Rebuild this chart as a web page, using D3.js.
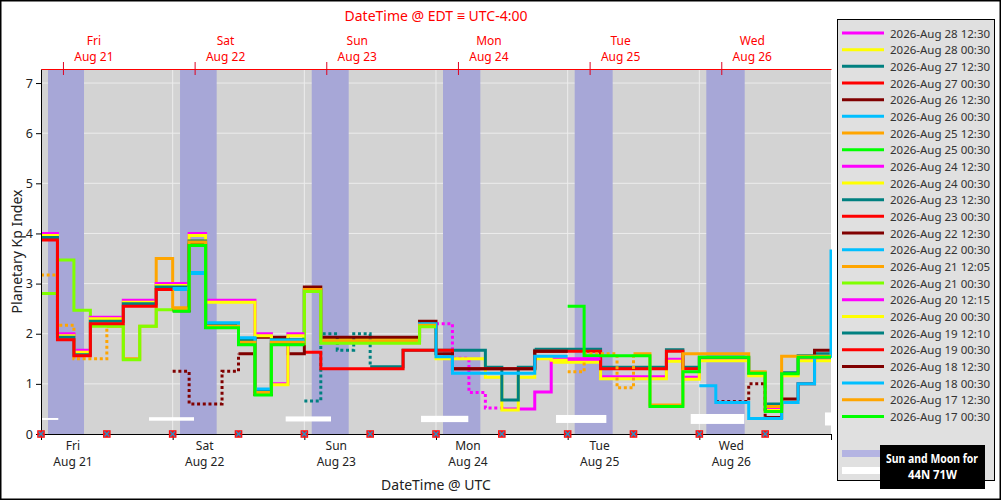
<!DOCTYPE html>
<html>
<head>
<meta charset="utf-8">
<script src="https://cdnjs.cloudflare.com/ajax/libs/d3/7.8.5/d3.min.js"></script>
<style>
  body { margin: 0; background: #fff; }
  svg { display: block; font-family: "Noto Sans", sans-serif; }
</style>
</head>
<body>
<div class="container"></div>
<script>
const WIDTH = 1001;
const HEIGHT = 500;
const LEFT = 41, RIGHT = 831, TOP = 69, BOTTOM = 434;

// forecast issue times, newest first (legend order)
const issued = [
    "2026-Aug 28 12:30", "2026-Aug 28 00:30", "2026-Aug 27 12:30", "2026-Aug 27 00:30",
    "2026-Aug 26 12:30", "2026-Aug 26 00:30", "2026-Aug 25 12:30", "2026-Aug 25 00:30",
    "2026-Aug 24 12:30", "2026-Aug 24 00:30", "2026-Aug 23 12:30", "2026-Aug 23 00:30",
    "2026-Aug 22 12:30", "2026-Aug 22 00:30", "2026-Aug 21 12:05", "2026-Aug 21 00:30",
    "2026-Aug 20 12:15", "2026-Aug 20 00:30", "2026-Aug 19 12:10", "2026-Aug 19 00:30",
    "2026-Aug 18 12:30", "2026-Aug 18 00:30", "2026-Aug 17 12:30", "2026-Aug 17 00:30"
];

// first 3-hour bin of each series (bin 0 = Aug 21 00:00 UTC)
const kpStart = [31, 31, 30, 30, 41, 40, 32, 32, 24, 16, 16, 16, 8, 8, 0, 0, 0, 0, 0, 0, 8, 8, 8, 8];

// dotted part (comes first), then solid part
const kpDotted = [
    [], [], [], [], [0.65, 0.65, 1.0], [], [1.24, 1.6, 1.6, 0.92], [],
    [2.2, 1.51, 0.83, 0.52], [], [0.66, 2.0, 1.67, 2.0], [],
    [1.25, 0.6, 0.6, 1.25], [], [3.17, 2.17, 1.5, 1.5], [],
    [], [], [], [], [], [], [], []
];

const kpSolid = [
    [1.47, 1.47, 1.47, 1.14, 1.14, 1.14, 1.14, 1.49, 1.13, 1.5, 1.5, 1.5, 1.2, 0.52, 1.2, 1.5, 1.5],
    [1.43, 1.43, 1.43, 1.1, 1.1, 1.1, 1.1, 1.45, 1.09, 1.46, 1.46, 1.46, 1.16, 0.47, 1.16, 1.46, 1.46],
    [1.69, 1.69, 1.69, 1.69, 1.33, 1.33, 1.33, 1.33, 1.68, 1.33, 1.53, 1.53, 1.53, 1.22, 0.6, 1.22, 1.56, 1.6],
    [1.65, 1.65, 1.65, 1.65, 1.3, 1.3, 1.3, 1.3, 1.65, 1.3],
    [0.33, 0.7, 1.0, 1.67],
    [0.96, 0.63, 0.63, 0.31, 0.31, 0.63, 1.0, 1.55, 3.65],
    [1.6, 0.58, 0.58, 1.6, 1.6, 1.6, 1.6, 1.24, 0.55, 1.55, 1.55, 1.55],
    [2.55, 1.56, 1.56, 1.56, 1.56, 0.55, 0.55, 1.24, 1.53, 1.53, 1.53, 1.21, 0.45, 1.2, 1.53, 1.53],
    [0.5, 0.5, 0.84, 1.5, 1.5, 1.5],
    [2.9, 1.9, 1.9, 1.9, 1.9, 1.9, 1.9, 2.15, 1.5, 1.5, 1.5, 1.13, 0.48, 1.13, 1.5, 1.47],
    [1.34, 1.34, 1.67, 1.67, 1.67, 1.67, 1.67, 1.33, 0.68, 1.33, 1.67, 1.67],
    [1.63, 1.3, 1.3, 1.3, 1.3, 1.3, 1.67, 1.67, 1.67, 1.3, 1.3, 1.3, 1.3, 1.3, 1.65, 1.65],
    [1.6, 1.93, 1.93, 1.6, 2.93, 1.93, 1.93, 1.93, 1.93, 1.93, 1.93, 2.25, 1.6, 1.3, 1.3, 1.3, 1.3, 1.3, 1.65, 1.65],
    [2.88, 3.22, 2.2, 2.2, 1.9, 0.88, 1.85, 1.85, 2.86, 1.85, 1.85, 1.85, 1.85, 1.85, 1.85, 2.2, 1.54, 1.21, 1.21, 1.21, 1.21, 1.21, 1.55, 1.55],
    [2.15, 1.5, 2.15, 3.5, 2.52, 3.85, 2.17, 2.17, 1.85, 0.85, 1.85, 1.85, 2.88, 1.86, 1.86, 1.86, 1.86, 1.86, 1.86, 2.17],
    [2.8, 3.47, 2.47, 2.15, 2.15, 1.48, 2.15, 2.48, 2.48, 3.8, 2.15, 2.15, 1.8, 0.8, 1.8, 1.8, 2.84, 1.81, 1.81, 1.81, 1.81, 1.81, 1.81, 2.14],
    [4.0, 2.0, 1.67, 2.33, 2.33, 2.67, 2.67, 3.0, 3.0, 4.0, 2.67, 2.67, 2.67, 2.0, 1.0, 2.0],
    [3.96, 1.96, 1.63, 2.3, 2.3, 2.63, 2.63, 2.96, 2.96, 3.96, 2.63, 2.63, 2.63, 1.96, 0.98, 1.96],
    [3.92, 1.93, 1.58, 2.25, 2.25, 2.6, 2.6, 2.93, 2.93, 3.85, 2.18, 2.18, 1.88, 0.85, 1.88, 1.88],
    [3.87, 1.88, 1.56, 2.2, 2.2, 2.55, 2.55, 2.88],
    [2.46, 3.77, 2.13, 2.13, 1.79, 0.79, 1.79, 1.79],
    [2.9, 3.2, 2.22, 2.22, 1.92, 0.9, 1.87, 1.87],
    [2.5, 3.83, 2.15, 2.15, 1.83, 0.83, 1.83, 1.83],
    [2.45, 3.76, 2.12, 2.12, 1.78, 0.78, 1.78, 1.78]
];

// darkness and moon-up periods, hours after Aug 21 00:00 UTC
const darkStart = [1.28, 25.34, 49.35, 73.28, 97.28, 121.27];
const darkEnd = [7.84, 32.02, 56.09, 80.08, 104.2, 128.27];
const moonRise = [-2, 19.69, 44.6, 69.27, 93.88, 118.43, 142.9];
const moonSet = [3.15, 27.89, 52.86, 77.89, 103.05, 128.2, 148];
const moonIllum = [0.14, 0.25, 0.36, 0.45, 0.57, 0.71, 0.93];

const markerHours = [0, 12, 24, 36, 48, 60, 72, 84, 96, 108, 120, 132];
const yTicks = [0, 1, 2, 3, 4, 5, 6, 7];

const palette = ["#ff00ff", "#ffff00", "#008080", "#ff0000", "#800000", "#00bfff", "#ffa500", "#00ff00"];
const colorOf = i => i === 15 ? "#7fff00" : palette[i % 8];

const T0 = Date.UTC(2026, 7, 21);
const hour = h => new Date(T0 + h * 3600e3);

var svg = d3.select(".container")
    .append("svg")
    .attr("width", WIDTH)
    .attr("height", HEIGHT);

var x = d3.scaleUtc().domain([hour(0), hour(144)]).range([LEFT, RIGHT]);
var y = d3.scaleLinear().domain([0, 7.28]).range([BOTTOM, TOP]);

svg.append("defs").append("clipPath").attr("id", "plot")
    .append("rect").attr("x", LEFT).attr("y", TOP)
    .attr("width", RIGHT - LEFT + 1).attr("height", BOTTOM - TOP);

// background
svg.append("rect").attr("x", LEFT).attr("y", TOP)
    .attr("width", RIGHT - LEFT).attr("height", BOTTOM - TOP)
    .attr("fill", "#d3d3d3");

var plot = svg.append("g").attr("clip-path", "url(#plot)");

// grid
plot.selectAll(".hgrid").data(yTicks.slice(1)).join("line")
    .attr("x1", LEFT).attr("x2", RIGHT)
    .attr("y1", d => y(d)).attr("y2", d => y(d))
    .attr("stroke", "#ececec").attr("stroke-width", 1);
plot.selectAll(".vgrid").data(d3.utcDay.range(hour(24), hour(144))).join("line")
    .attr("x1", d => x(d)).attr("x2", d => x(d))
    .attr("y1", TOP).attr("y2", BOTTOM)
    .attr("stroke", "#ececec").attr("stroke-width", 1);

// night bands
plot.selectAll(".dark").data(darkStart).join("rect")
    .attr("x", (d) => x(hour(d)))
    .attr("width", (d, i) => x(hour(darkEnd[i])) - x(hour(d)))
    .attr("y", TOP).attr("height", BOTTOM - TOP)
    .attr("fill", "#a7a7d7");

// moon bars
plot.selectAll(".moon").data(moonRise).join("rect")
    .attr("x", d => x(hour(d)))
    .attr("width", (d, i) => x(hour(moonSet[i])) - x(hour(d)))
    .attr("y", (d, i) => y(0.3) - moonIllum[i] * 7)
    .attr("height", (d, i) => moonIllum[i] * 14)
    .attr("fill", "#ffffff");

// forecast lines
var stepLine = d3.line()
    .x(d => x(hour(d[0] * 3)))
    .y(d => y(d[1]))
    .curve(d3.curveStepAfter);

issued.forEach(function (name, i) {
    var s0 = kpStart[i];
    var dots = kpDotted[i];
    var solid = kpSolid[i];
    var s1 = s0 + dots.length;
    if (dots.length) {
        var dp = dots.map((v, k) => [s0 + k, v]);
        dp.push([s1, solid[0]]);
        plot.append("path").attr("d", stepLine(dp))
            .attr("fill", "none").attr("stroke", colorOf(i))
            .attr("stroke-width", 3).attr("stroke-dasharray", "3,2.7");
    }
    var sp = solid.map((v, k) => [s1 + k, v]);
    sp.push([s1 + solid.length, solid[solid.length - 1]]);
    plot.append("path").attr("d", stepLine(sp))
        .attr("fill", "none").attr("stroke", colorOf(i))
        .attr("stroke-width", 3).attr("stroke-linejoin", "miter");
});

// axes
var yAxis = svg.append("g")
    .attr("transform", "translate(" + LEFT + ",0)")
    .call(d3.axisLeft(y).tickValues(yTicks).tickSize(5).tickSizeOuter(0).tickFormat(d3.format("d")));
yAxis.selectAll("text").attr("font-size", 12.5).attr("fill", "#222").attr("font-family", "Noto Sans");

var xAxis = svg.append("g")
    .attr("transform", "translate(0," + BOTTOM + ")")
    .call(d3.axisBottom(x).ticks(d3.utcDay.every(1)).tickSize(6).tickSizeOuter(6).tickFormat(""));

var days = d3.utcDay.range(hour(0), hour(144));
var fmtDay = d3.utcFormat("%a"), fmtDate = d3.utcFormat("%b %-d");
svg.selectAll(".dlab").data(days).join("text")
    .attr("x", d => x(d) + 32).attr("y", 450)
    .attr("text-anchor", "middle").attr("font-size", 12).attr("fill", "#222")
    .text(d => fmtDay(d));
svg.selectAll(".dlab2").data(days).join("text")
    .attr("x", d => x(d) + 32).attr("y", 466)
    .attr("text-anchor", "middle").attr("font-size", 12).attr("fill", "#222")
    .text(d => fmtDate(d));

// top EDT axis
var edtTicks = days.map(d => d3.utcHour.offset(d, 4));
var topAxis = svg.append("g")
    .attr("transform", "translate(0," + TOP + ")")
    .call(d3.axisTop(x).tickValues(edtTicks).tickSize(7).tickSizeOuter(0).tickFormat(""));
topAxis.select(".domain").attr("stroke", "#ff0000");
topAxis.selectAll(".tick line").attr("stroke", "#e00020").attr("y2", 6).attr("y1", -7);

svg.selectAll(".elab").data(edtTicks).join("text")
    .attr("x", d => x(d) + 31).attr("y", 45)
    .attr("text-anchor", "middle").attr("font-size", 12).attr("fill", "#ff0000")
    .text(d => fmtDay(d3.utcHour.offset(d, -4)));
svg.selectAll(".elab2").data(edtTicks).join("text")
    .attr("x", d => x(d) + 31).attr("y", 61)
    .attr("text-anchor", "middle").attr("font-size", 12).attr("fill", "#ff0000")
    .text(d => fmtDate(d3.utcHour.offset(d, -4)));

// issue markers
var mk = svg.selectAll(".mk").data(markerHours).join("g")
    .attr("transform", d => "translate(" + x(hour(d)) + "," + BOTTOM + ")");
mk.append("rect").attr("x", -3.8).attr("y", -3.8).attr("width", 7.6).attr("height", 7.6)
    .attr("fill", "#ff1010");
mk.append("path").attr("d", "M-2.4,-2.4L2.4,2.4M2.4,-2.4L-2.4,2.4")
    .attr("stroke", "#2f8fc0").attr("stroke-width", 1.4);

// titles
svg.append("text").attr("x", (LEFT + RIGHT) / 2).attr("y", 21)
    .attr("text-anchor", "middle").attr("font-size", 14).attr("fill", "#ff0000")
    .text("DateTime @ EDT \u2261 UTC-4:00");
svg.append("text").attr("x", (LEFT + RIGHT) / 2).attr("y", 490)
    .attr("text-anchor", "middle").attr("font-size", 14).attr("fill", "#222")
    .text("DateTime @ UTC");
svg.append("text")
    .attr("transform", "translate(22," + (TOP + BOTTOM) / 2 + ") rotate(-90)")
    .attr("text-anchor", "middle").attr("font-size", 14).attr("fill", "#222")
    .text("Planetary Kp Index");

// legend
var lg = svg.append("g");
lg.append("rect").attr("x", 837.5).attr("y", 19.5).attr("width", 157).attr("height", 461)
    .attr("fill", "#e0e0e0").attr("stroke", "#000").attr("stroke-width", 1);
var items = lg.selectAll(".li").data(issued).join("g")
    .attr("transform", (d, i) => "translate(0," + (33 + i * 16.67) + ")");
items.append("line").attr("x1", 842).attr("x2", 884)
    .attr("stroke", (d, i) => colorOf(i)).attr("stroke-width", 3);
items.append("text").attr("x", 890).attr("y", 4.5)
    .attr("font-size", 11.5).attr("fill", "#333").text(d => d);

lg.append("rect").attr("x", 842).attr("y", 450).attr("width", 42).attr("height", 7).attr("fill", "#b4b4e2");
lg.append("rect").attr("x", 842).attr("y", 467).attr("width", 42).attr("height", 7).attr("fill", "#ffffff");
lg.append("rect").attr("x", 880).attr("y", 445).attr("width", 105).attr("height", 44).attr("fill", "#000");
lg.append("text").attr("x", 886).attr("y", 463)
    .attr("textLength", 92).attr("lengthAdjust", "spacingAndGlyphs")
    .attr("font-size", 11.5).attr("font-weight", "bold").attr("fill", "#fff").text("Sun and Moon for");
lg.append("text").attr("x", 908).attr("y", 479)
    .attr("textLength", 49).attr("lengthAdjust", "spacingAndGlyphs")
    .attr("font-size", 11.5).attr("font-weight", "bold").attr("fill", "#fff").text("44N 71W");

// frame
svg.append("rect").attr("x", 0.75).attr("y", 0.75).attr("width", WIDTH - 1.5).attr("height", HEIGHT - 1.5)
    .attr("fill", "none").attr("stroke", "#000").attr("stroke-width", 1.5);
</script>
</body>
</html>
